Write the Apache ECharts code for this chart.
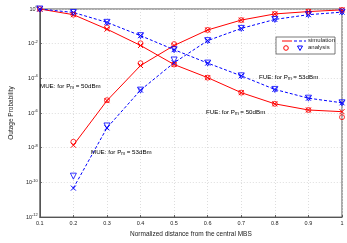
<!DOCTYPE html>
<html><head><meta charset="utf-8">
<script src="https://cdn.jsdelivr.net/npm/echarts@6/dist/echarts.min.js"></script>
<style>html,body{margin:0;padding:0;background:#fff}#c{width:347px;height:243px}</style>
</head><body><div id="c"></div>
<script>
const xs = [0.1,0.2,0.3,0.4,0.5,0.6,0.7,0.8,0.9,1.0];
const yTicks = [-12,-10,-8,-6,-4,-2,0];
const mue50Sim = [null,1.4e-8,5.2e-6,5.5e-4,7.9e-3,6.2e-2,0.23,0.52,0.71,0.89];
const mue50Ana = [null,2.2e-8,5.5e-6,7.4e-4,9.5e-3,6.2e-2,0.23,0.52,0.71,0.89];
const fue50Sim = [1,0.47,0.069,7.9e-3,6.3e-4,1.1e-4,1.5e-5,3.4e-6,1.5e-6,1.2e-6];
const fue50Ana = [1,0.47,0.087,1.05e-2,6.3e-4,1.1e-4,1.5e-5,3.4e-6,1.5e-6,5.8e-7];
const mue53Sim = [null,4.7e-11,1.4e-7,2.1e-5,8e-4,1.5e-2,7.6e-2,0.25,0.47,0.66];
const mue53Ana = [null,2.3e-10,1.8e-7,2.1e-5,1.15e-3,1.5e-2,7.6e-2,0.25,0.47,0.66];
const fue53Sim = [1,0.63,0.17,2.9e-2,4.5e-3,7.6e-4,1.4e-4,2.3e-5,7.2e-6,3.9e-6];
const fue53Ana = [1,0.63,0.17,2.9e-2,4.5e-3,7.6e-4,1.4e-4,2.3e-5,7.2e-6,3.9e-6];
const legendLabels = ['simulation','analysis'];

const RED = '#ff0000', BLUE = '#0000ff';
const FONT = 'Liberation Sans';
const pair = d => xs.map((x,i)=>[x,d[i]]).filter(p=>p[1]!==null);
const X = 'path://M0,0L10,10M10,0L0,10';

function sim(data,color,dashed){
  return {type:'line',data:pair(data),symbol:X,symbolSize:5,
    lineStyle:{color:color,width:1,type:dashed?[3,2]:'solid'},
    itemStyle:{color:'none',borderColor:color,borderWidth:1},z:3};
}
function ana(data,color,tri){
  return {type:'scatter',data:pair(data),symbol:tri?'triangle':'circle',symbolRotate:tri?180:0,
    symbolSize:tri?6:5,itemStyle:{color:'none',borderColor:color,borderWidth:1},z:4};
}
const rich = (c)=>({a:{fontSize:6.2,fontFamily:FONT,color:c},s:{fontSize:4.5,fontFamily:FONT,color:c,padding:[4,0,0,0]}});
function note(x,y,txt1,sub,txt2,c){
  return {type:'text',left:x,top:y-4,style:{text:'{a|'+txt1+'}{s|'+sub+'}{a|'+txt2+'}',rich:rich(c)},z:10};
}
const chart = echarts.init(document.getElementById('c'));
chart.setOption({
  animation:false,
  grid:{left:21,right:5,top:9,bottom:16,show:true,borderColor:'#555',borderWidth:1},
  xAxis:{type:'value',min:0.1,max:1,interval:0.1,
    name:'Normalized distance from the central MBS',nameLocation:'middle',nameGap:11,
    nameTextStyle:{fontSize:6.5,fontFamily:FONT,color:'#222'},
    axisLine:{lineStyle:{color:'#555'}},axisTick:{inside:true,length:2,lineStyle:{color:'#555'}},
    axisLabel:{fontSize:5.5,fontFamily:FONT,color:'#222',margin:3,formatter:v=>String(+v.toFixed(1))},
    splitLine:{show:true,lineStyle:{color:'#d4d4d4',type:[1,2],width:0.8}}},
  yAxis:{type:'log',logBase:10,min:1e-12,max:1,interval:2,
    name:'Outage Probability',nameLocation:'middle',nameGap:17,
    nameTextStyle:{fontSize:6.5,fontFamily:FONT,color:'#222'},
    axisLine:{lineStyle:{color:'#555'}},axisTick:{inside:true,length:2,lineStyle:{color:'#555'}},
    axisLabel:{margin:2,formatter:v=>{const e=Math.round(Math.log10(v));return '{b|10}{s|'+e+'}';},
      rich:{b:{fontSize:5.5,fontFamily:FONT,color:'#222'},s:{fontSize:4,fontFamily:FONT,color:'#222',padding:[0,0,4,0]}}},
    splitLine:{show:true,lineStyle:{color:'#d4d4d4',type:[1,2],width:0.8}},minorTick:{show:false}},
  series:[
    sim(mue50Sim,RED,false), ana(mue50Ana,RED,false),
    sim(fue50Sim,RED,false), ana(fue50Ana,RED,false),
    sim(mue53Sim,BLUE,true), ana(mue53Ana,BLUE,true),
    sim(fue53Sim,BLUE,true), ana(fue53Ana,BLUE,true)
  ],
  graphic:[
    {type:'rect',shape:{x:276,y:37,width:59,height:17},style:{fill:'#fff',stroke:'#555',lineWidth:0.8},z:20},
    {type:'line',shape:{x1:282,y1:41,x2:292,y2:41},style:{stroke:RED,lineWidth:1},z:21},
    {type:'line',shape:{x1:294,y1:41,x2:306,y2:41},style:{stroke:BLUE,lineWidth:1,lineDash:[3,2]},z:21},
    {type:'circle',shape:{cx:286,cy:48,r:2.3},style:{fill:'none',stroke:RED,lineWidth:1},z:21},
    {type:'polygon',shape:{points:[[297.5,46],[302.5,46],[300,50.5]]},style:{fill:'none',stroke:BLUE,lineWidth:1},z:21},
    {type:'text',left:308,top:37.5,style:{text:legendLabels[0],fontSize:6,fontFamily:FONT,fill:'#222'},z:21},
    {type:'text',left:308,top:44.5,style:{text:legendLabels[1],fontSize:6,fontFamily:FONT,fill:'#222'},z:21},
    note(40,87,'MUE: for P','m',' = 50dBm',RED),
    note(91,153,'MUE: for P','m',' = 53dBm',BLUE),
    note(259,78,'FUE: for P','m',' = 53dBm',BLUE),
    note(206,113,'FUE: for P','m',' = 50dBm',RED)
  ]
});
</script></body></html>
